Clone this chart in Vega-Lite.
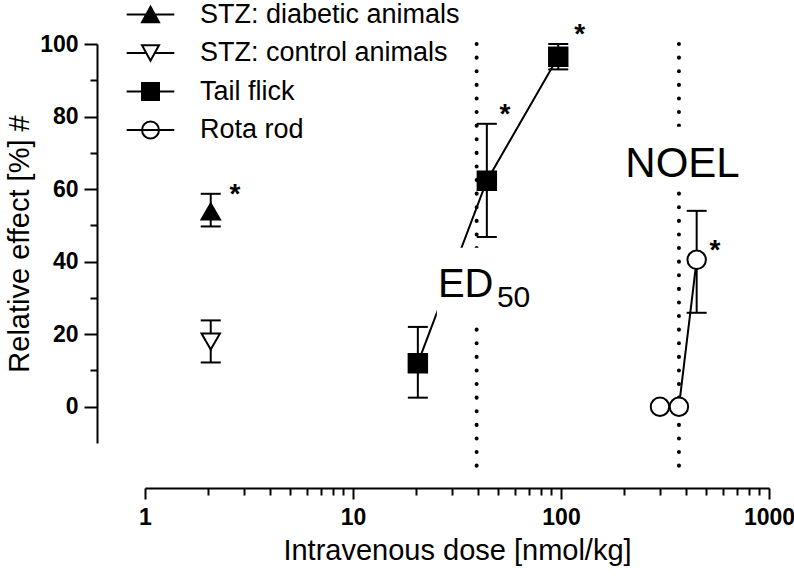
{
  "$schema": "https://vega.github.io/schema/vega-lite/v6.json",
  "width": 624,
  "height": 399,
  "autosize": {"type": "none"},
  "padding": {"left": 145, "top": 44, "right": 25, "bottom": 133},
  "background": "white",
  "config": {
    "view": {"stroke": null},
    "font": "Liberation Sans",
    "axis": {"domainColor": "black", "tickColor": "black", "labelColor": "black", "titleColor": "black", "domainWidth": 2, "tickWidth": 2, "grid": false, "labelFont": "Liberation Sans", "titleFont": "Liberation Sans"}
  },
  "resolve": {"axis": {"x": "independent", "y": "independent"}, "scale": {"shape": "independent", "fill": "independent"}},
  "datasets": {
    "points": [
      {"group": "STZ: diabetic animals", "dose": 2.07, "effect": 53.8, "lo": 49.7, "hi": 58.7},
      {"group": "STZ: control animals", "dose": 2.07, "effect": 18.0, "lo": 12.2, "hi": 23.8},
      {"group": "Tail flick", "dose": 20.5, "effect": 12.0, "lo": 2.5, "hi": 22.0},
      {"group": "Tail flick", "dose": 44, "effect": 62.3, "lo": 46.8, "hi": 78.0},
      {"group": "Tail flick", "dose": 97, "effect": 96.5, "lo": 93.0, "hi": 100.0},
      {"group": "Rota rod", "dose": 299, "effect": 0, "lo": null, "hi": null},
      {"group": "Rota rod", "dose": 369, "effect": 0, "lo": null, "hi": null},
      {"group": "Rota rod", "dose": 449, "effect": 40.5, "lo": 25.9, "hi": 54.0}
    ],
    "refs": [
      {"label": "ED50", "dose": 39.3, "top": 100, "bottom": -19.6},
      {"label": "NOEL", "dose": 369, "top": 100, "bottom": -19.6}
    ],
    "boxes": [
      {"label": "ED50", "x0": 25.3, "x1": 83.8, "y0": 23.7, "y1": 43.8},
      {"label": "NOEL", "x0": 192, "x1": 767, "y0": 60.1, "y1": 77.2}
    ],
    "notes": [
      {"text": "ED", "dose": 25.6, "effect": 30.3},
      {"text": "50", "dose": 49.2, "effect": 27.6},
      {"text": "NOEL", "dose": 384, "effect": 63.4}
    ],
    "stars": [
      {"dose": 2.71, "effect": 60.7},
      {"dose": 53.8, "effect": 82.7},
      {"dose": 123, "effect": 104.8},
      {"dose": 550, "effect": 45.2}
    ]
  },
  "layer": [
    {
      "data": {"name": "points"},
      "transform": [{"filter": "datum.group == 'Tail flick' || datum.group == 'Rota rod'"}],
      "mark": {"type": "line", "color": "black", "strokeWidth": 2},
      "encoding": {
        "x": {"field": "dose", "type": "quantitative", "axis": null},
        "y": {"field": "effect", "type": "quantitative", "axis": null},
        "detail": {"field": "group"},
        "order": {"field": "dose", "type": "quantitative"}
      }
    },
    {
      "data": {"name": "refs"},
      "mark": {"type": "rule", "color": "black", "strokeWidth": 4, "strokeDash": [0.1, 13.5], "strokeCap": "round"},
      "encoding": {
        "x": {"field": "dose", "type": "quantitative", "axis": null},
        "y": {"field": "top", "type": "quantitative", "axis": null},
        "y2": {"field": "bottom"}
      }
    },
    {
      "data": {"name": "boxes"},
      "mark": {"type": "rect", "fill": "white", "stroke": null},
      "encoding": {
        "x": {"field": "x0", "type": "quantitative", "axis": null},
        "x2": {"field": "x1"},
        "y": {"field": "y0", "type": "quantitative", "axis": null},
        "y2": {"field": "y1"}
      }
    },
    {
      "data": {"name": "notes"},
      "transform": [{"filter": "datum.text == 'ED'"}],
      "mark": {"type": "text", "fontSize": 40, "align": "left", "baseline": "alphabetic", "color": "black"},
      "encoding": {
        "x": {"field": "dose", "type": "quantitative", "axis": null},
        "y": {"field": "effect", "type": "quantitative", "axis": null},
        "text": {"field": "text"}
      }
    },
    {
      "data": {"name": "notes"},
      "transform": [{"filter": "datum.text == '50'"}],
      "mark": {"type": "text", "fontSize": 30, "align": "left", "baseline": "alphabetic", "color": "black"},
      "encoding": {
        "x": {"field": "dose", "type": "quantitative", "axis": null},
        "y": {"field": "effect", "type": "quantitative", "axis": null},
        "text": {"field": "text"}
      }
    },
    {
      "data": {"name": "notes"},
      "transform": [{"filter": "datum.text == 'NOEL'"}],
      "mark": {"type": "text", "fontSize": 42, "align": "center", "baseline": "alphabetic", "color": "black"},
      "encoding": {
        "x": {"field": "dose", "type": "quantitative", "axis": null},
        "y": {"field": "effect", "type": "quantitative", "axis": null},
        "text": {"field": "text"}
      }
    },
    {
      "data": {"name": "points"},
      "mark": {"type": "rule", "color": "black", "strokeWidth": 2},
      "encoding": {
        "x": {"field": "dose", "type": "quantitative", "axis": null},
        "y": {"field": "lo", "type": "quantitative", "axis": null},
        "y2": {"field": "hi"}
      }
    },
    {
      "data": {"name": "points"},
      "mark": {"type": "tick", "orient": "horizontal", "color": "black", "size": 20, "thickness": 2, "opacity": 1},
      "encoding": {
        "x": {"field": "dose", "type": "quantitative", "axis": null},
        "y": {"field": "lo", "type": "quantitative", "axis": null}
      }
    },
    {
      "data": {"name": "points"},
      "mark": {"type": "tick", "orient": "horizontal", "color": "black", "size": 20, "thickness": 2, "opacity": 1},
      "encoding": {
        "x": {"field": "dose", "type": "quantitative", "axis": null},
        "y": {"field": "hi", "type": "quantitative", "axis": null}
      }
    },
    {
      "data": {"name": "points"},
      "mark": {"type": "point", "stroke": "black", "strokeWidth": 2, "opacity": 0},
      "encoding": {
        "x": {"field": "dose", "type": "quantitative", "axis": null},
        "y": {"field": "effect", "type": "quantitative", "axis": null},
        "shape": {
          "field": "group", "type": "nominal",
          "scale": {
            "domain": ["STZ: diabetic animals", "STZ: control animals", "Tail flick", "Rota rod"],
            "range": ["M-2.8,0H2.8M0,-0.9L1,0.9L-1,0.9Z", "M-2.8,0H-0.5M0.5,0H2.8M-1,-0.9L1,-0.9L0,0.9Z", "M-2.8,0H2.8M-1,-1H1V1H-1Z", "M-2.8,0H2.8M1,0A1,1,0,1,1,-1,0A1,1,0,1,1,1,0Z"]
          },
          "legend": {
            "title": null, "orient": "none", "legendX": -8, "legendY": -43, "padding": 0,
            "labelFontSize": 27, "labelFont": "Liberation Sans", "labelColor": "black", "labelLimit": 0,
            "symbolSize": 289, "symbolStrokeWidth": 2, "symbolOpacity": 1,
            "labelOffset": 36, "rowPadding": 10.5
          }
        },
        "fill": {
          "field": "group", "type": "nominal",
          "scale": {"domain": ["STZ: diabetic animals", "STZ: control animals", "Tail flick", "Rota rod"], "range": ["black", "white", "black", "white"]},
          "legend": {
            "title": null, "orient": "none", "legendX": -8, "legendY": -43, "padding": 0,
            "labelFontSize": 27, "labelFont": "Liberation Sans", "labelColor": "black", "labelLimit": 0,
            "symbolSize": 289, "symbolStrokeWidth": 2, "symbolOpacity": 1,
            "labelOffset": 36, "rowPadding": 10.5
          }
        }
      }
    },
    {
      "data": {"name": "points"},
      "mark": {"type": "point", "stroke": "black", "strokeWidth": 2, "opacity": 1, "size": 340},
      "encoding": {
        "x": {
          "field": "dose", "type": "quantitative",
          "scale": {"type": "log", "domain": [1, 1000], "nice": false},
          "axis": {
            "title": "Intravenous dose [nmol/kg]",
            "values": [1, 2, 3, 4, 5, 6, 7, 8, 9, 10, 20, 30, 40, 50, 60, 70, 80, 90, 100, 200, 300, 400, 500, 600, 700, 800, 900, 1000],
            "format": "d",
            "labelExpr": "(datum.value == 1 || datum.value == 10 || datum.value == 100 || datum.value == 1000) ? datum.label : ''",
            "tickSize": {"condition": {"test": "datum.value == 1 || datum.value == 10 || datum.value == 100 || datum.value == 1000", "value": 11}, "value": 7},
            "offset": 45,
            "labelFontSize": 23,
            "labelFontWeight": "bold",
            "labelPadding": 7,
            "labelFlush": false,
            "labelOverlap": false,
            "titleFontSize": 29,
            "titleFontWeight": "normal",
            "titlePadding": 7
          }
        },
        "y": {
          "field": "effect", "type": "quantitative",
          "scale": {"domain": [-10, 100], "nice": false, "zero": false},
          "axis": {
            "title": "Relative effect [%]  #",
            "values": [0, 10, 20, 30, 40, 50, 60, 70, 80, 90, 100],
            "labelExpr": "datum.value % 20 == 0 ? datum.label : ''",
            "tickSize": {"condition": {"test": "datum.value % 20 == 0", "value": 13}, "value": 7},
            "offset": 48,
            "labelFontSize": 23,
            "labelFontWeight": "bold",
            "labelPadding": 6,
            "labelOverlap": false,
            "titleFontSize": 29,
            "titleFontWeight": "normal",
            "titlePadding": 5
          }
        },
        "shape": {
          "field": "group", "type": "nominal",
          "scale": {"domain": ["STZ: diabetic animals", "STZ: control animals", "Tail flick", "Rota rod"], "range": ["triangle-up", "triangle-down", "square", "circle"]},
          "legend": null
        },
        "fill": {
          "field": "group", "type": "nominal",
          "scale": {"domain": ["STZ: diabetic animals", "STZ: control animals", "Tail flick", "Rota rod"], "range": ["black", "white", "black", "white"]},
          "legend": null
        }
      }
    },
    {
      "data": {"name": "stars"},
      "mark": {"type": "text", "text": "*", "fontSize": 28, "fontWeight": "bold", "align": "center", "baseline": "alphabetic", "dy": 16, "color": "black"},
      "encoding": {
        "x": {"field": "dose", "type": "quantitative", "axis": null},
        "y": {"field": "effect", "type": "quantitative", "axis": null}
      }
    }
  ]
}
